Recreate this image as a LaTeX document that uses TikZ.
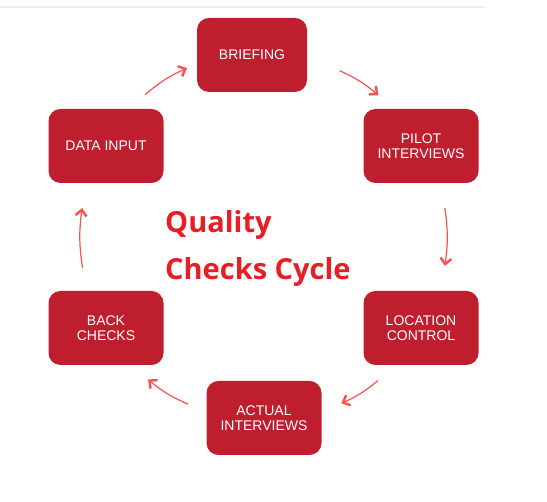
\documentclass[tikz,border=0pt]{standalone}
\usepackage{fontspec}
\setmainfont{Liberation Sans}
\newfontfamily\titlefont{Open Sans}
\usetikzlibrary{arrows.meta}
\definecolor{boxred}{HTML}{BE1E2D}
\definecolor{arrowred}{HTML}{F85252}
\definecolor{titlered}{HTML}{E81E25}
\tikzset{
	stage/.style={fill=boxred, rounded corners=12pt, minimum width=115pt, minimum height=74pt,
		text=white, font=\fontsize{14}{15.5}\selectfont, align=center},
	flow/.style={draw=arrowred, line width=1.2pt,
		-{Straight Barb[length=6pt, width=11pt, line width=2.4pt]}},
	headline/.style={text=titlered, font=\titlefont\bfseries\fontsize{29}{36}\selectfont,
		anchor=base west, inner sep=0pt}
}

\begin{document}
\begin{tikzpicture}[x=1pt, y=1pt]
	\useasboundingbox (0, 0) rectangle (547, 502);
	\draw[gray!12, line width=1.5pt] (0, 495) -- (485, 495);
	
	\node[stage, minimum width=110pt] (briefing) at (252, 447) {BRIEFING};
	\node[stage] (pilot) at (421, 356) {PILOT\\INTERVIEWS};
	\node[stage] (location) at (421, 174) {LOCATION\\CONTROL};
	\node[stage] (actual) at (264, 84) {ACTUAL\\INTERVIEWS};
	\node[stage] (back) at (106, 174) {BACK\\CHECKS};
	\node[stage] (data) at (106, 356) {DATA INPUT};
	
	\node[headline] (title1) at (165, 269) {Quality};
	\node[headline] (title2) at (165, 222) {Checks Cycle};
	
	% arrows sit on the circle through the boxes
	\foreach \s/\t/\p/\q in {data/briefing/.35/.64, briefing/pilot/.44/.68, pilot/location/.34/.66,
		location/actual/.35/.59, actual/back/.40/.66, back/data/.33/.66}{
		\path (\s.center) to[bend left=30] coordinate[pos=\p] (\s-a) coordinate[pos=\q] (\s-b) (\t.center);
		\draw[flow] (\s-a) to[bend left=8] (\s-b);
	}
\end{tikzpicture}
\end{document}
